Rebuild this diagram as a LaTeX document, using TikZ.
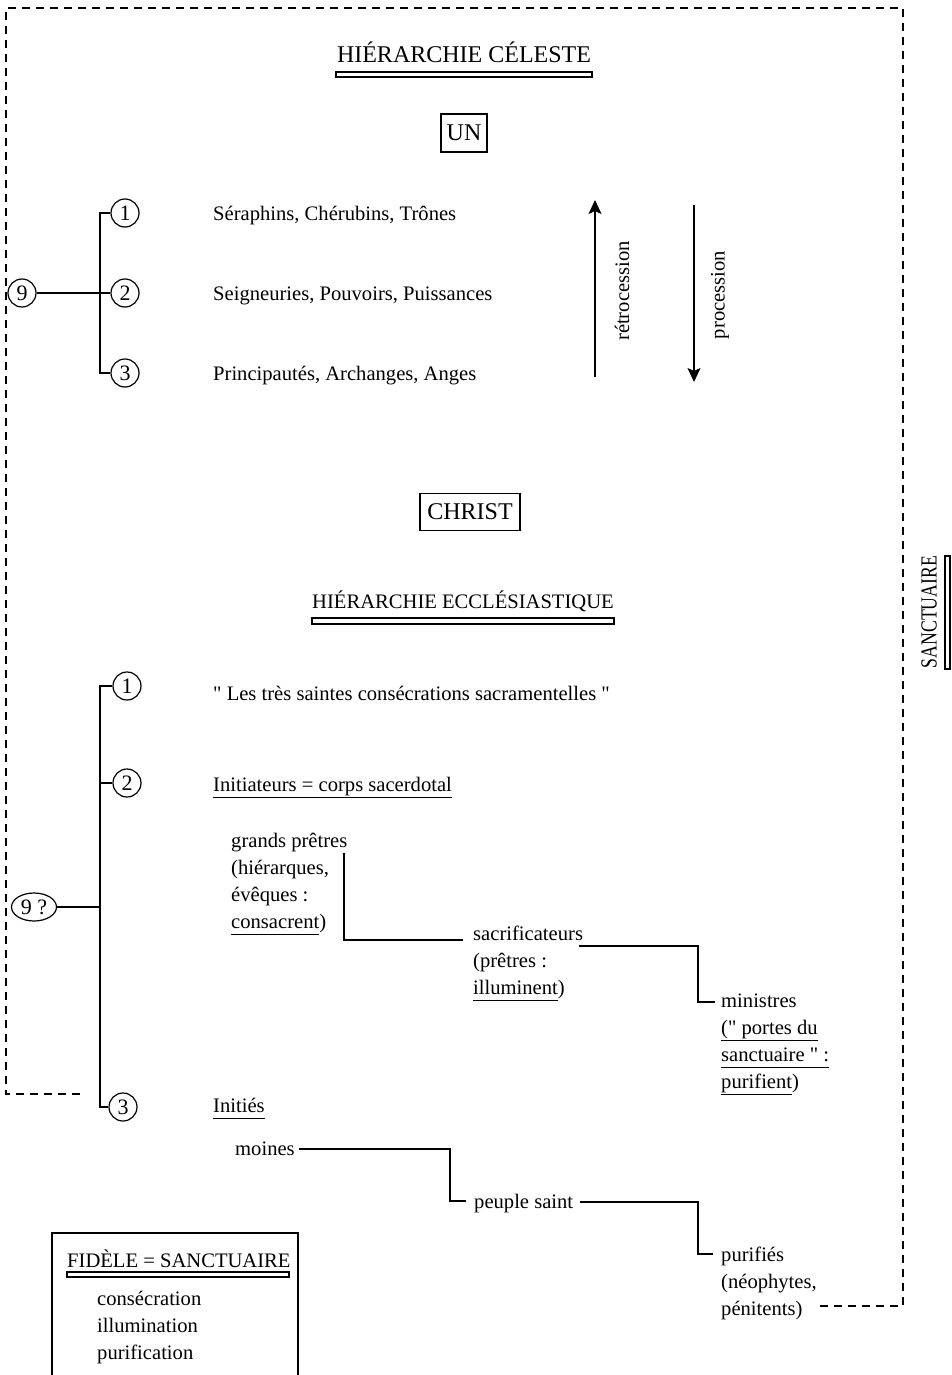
\documentclass[tikz,border=0pt]{standalone}
\usepackage{fontspec}
\usepackage{graphicx}
\setmainfont{Liberation Serif}[Ligatures=TeXOff]
\usetikzlibrary{shapes.geometric,arrows.meta}
\newcommand{\nsz}{\fontsize{20.6}{27}\selectfont}
\newcommand{\bsz}{\fontsize{24}{28}\selectfont}
\newcommand{\uln}[1]{\underline{#1\vphantom{p}}}
\begin{document}
\begin{tikzpicture}[x=1pt,y=-1pt,
  txt/.style={font=\nsz,inner sep=0pt,anchor=base west},
  num/.style={circle,draw,line width=1.2pt,minimum size=28pt,inner sep=0pt,font=\fontsize{22}{22}\selectfont},
  tree/.style={line width=1.3pt},
  border/.style={line width=1.2pt,dash pattern=on 8pt off 6pt},
  dbl/.style={draw,line width=1.1pt},
  boxed/.style={draw,line width=1.3pt,inner sep=0pt,font=\bsz},
  arr/.style={line width=1.5pt,-{Stealth[length=14pt,width=13pt,inset=3pt]}}]
\useasboundingbox (0,0) rectangle (951,1375);
\fill[white] (0,0) rectangle (951,1375);

% dashed sanctuary border
\coordinate (bl) at (80,1094);
\coordinate (br) at (818,1306);
\draw[border] (bl) -- (6,1094) -- (6,8) -- (903,8) -- (903,1306) -- (br);

% SANCTUAIRE
\node[rotate=90,inner sep=0pt] (sanct) at (929,612) {\scalebox{0.77}[1]{\fontsize{23}{23}\selectfont SANCTUAIRE}};
\draw[dbl] (945,556) rectangle (950,669);

% celestial hierarchy
\node[font=\bsz,inner sep=0pt,anchor=base] (tc) at (464,63) {HIÉRARCHIE CÉLESTE};
\draw[dbl] (336,72) rectangle (592,77);
\node[boxed,minimum width=46pt,minimum height=38pt] (un) at (464,133) {UN};

\coordinate (tx) at (100,0);
\node[num] (nine) at (22,293) {9};
\node[num] (c1) at (125,213) {1};
\node[num] (c2) at (125,293) {2};
\node[num] (c3) at (125,373) {3};
\draw[tree] (nine) -- (c2);
\draw[tree] (c1.west) -- (c1.west -| tx) -- (c3.west -| tx) -- (c3.west);

\node[txt] (s1) at (213,220) {Séraphins, Chérubins, Trônes};
\node[txt] (s2) at (213,300) {Seigneuries, Pouvoirs, Puissances};
\node[txt] (s3) at (213,380) {Principautés, Archanges, Anges};

\coordinate (ra) at (595,377);
\coordinate (rb) at (595,200);
\coordinate (pa) at (694,205);
\coordinate (pb) at (694,382);
\draw[arr] (ra) -- (rb);
\draw[arr] (pa) -- (pb);
\node[font=\nsz,inner sep=0pt,rotate=90] (retro) at (622,291) {rétrocession};
\node[font=\nsz,inner sep=0pt,rotate=90] (proc) at (720,295) {procession};

% Christ
\node[boxed,minimum width=100pt,minimum height=37pt] (christ) at (470,512) {CHRIST};

% ecclesiastical hierarchy
\node[font=\nsz,inner sep=0pt,anchor=base] (te) at (463,608) {HIÉRARCHIE ECCLÉSIASTIQUE};
\draw[dbl] (312,618) rectangle (614,624);

\node[ellipse,draw,line width=1.2pt,minimum width=45pt,minimum height=28pt,inner sep=0pt,font=\fontsize{22}{22}\selectfont] (nineq) at (34,907) {9 ?};
\node[num] (e1) at (127,686) {1};
\node[num] (e2) at (127,783) {2};
\node[num] (e3) at (123,1107) {3};
\draw[tree] (nineq.east) -- (nineq.east -| tx);
\draw[tree] (e1.west) -- (e1.west -| tx) -- (e3.west -| tx) -- (e3.west);
\draw[tree] (e2.west) -- (e2.west -| tx);

\node[txt] (l1) at (213,700) {" Les très saintes consécrations sacramentelles "};
\node[txt] (l2) at (213,791) {\uln{Initiateurs = corps sacerdotal}};

\node[txt] (gp1) at (231,847) {grands prêtres};
\node[txt] (gp2) at (231,874) {(hiérarques,};
\node[txt] (gp3) at (231,901) {évêques :};
\node[txt] (gp4) at (231,928) {\uln{consacrent})};

\node[txt] (sa1) at (473,940) {sacrificateurs};
\node[txt] (sa2) at (473,967) {(prêtres :};
\node[txt] (sa3) at (473,994) {\uln{illuminent})};

\node[txt] (mi1) at (721,1007) {ministres};
\node[txt] (mi2) at (721,1034) {\uln{(" portes du}};
\node[txt] (mi3) at (721,1061) {\uln{sanctuaire " :}};
\node[txt] (mi4) at (721,1088) {\uln{purifient})};

\coordinate (k1) at (344,853);
\draw[tree] (k1) |- ([xshift=-10pt]sa1.base west);
\draw[tree] ([shift={(-4pt,-6pt)}]sa1.base east) -| (698,1002) -- ([shift={(-6pt,5pt)}]mi1.base west);

\node[txt] (ini) at (213,1112) {\uln{Initiés}};
\node[txt] (mo) at (235,1155) {moines};
\node[txt] (ps) at (474,1208) {peuple saint};
\node[txt] (pu1) at (721,1261) {purifiés};
\node[txt] (pu2) at (721,1288) {(néophytes,};
\node[txt] (pu3) at (721,1315) {pénitents)};

\draw[tree] ([shift={(4pt,6pt)}]mo.base east) -| (450,1201) -- ([shift={(-8pt,7pt)}]ps.base west);
\draw[tree] ([shift={(7pt,6pt)}]ps.base east) -| (698,1254) -- ([shift={(-8pt,7pt)}]pu1.base west);

% legend box
\draw[line width=1.2pt] (52,1376) |- (298,1233) -- (298,1376);
\node[txt] (fid) at (67,1267) {FIDÈLE = SANCTUAIRE};
\draw[dbl] (67,1272) rectangle (289,1277);
\node[txt] (g1) at (97,1305) {consécration};
\node[txt] (g2) at (97,1332) {illumination};
\node[txt] (g3) at (97,1359) {purification};
\end{tikzpicture}
\end{document}
